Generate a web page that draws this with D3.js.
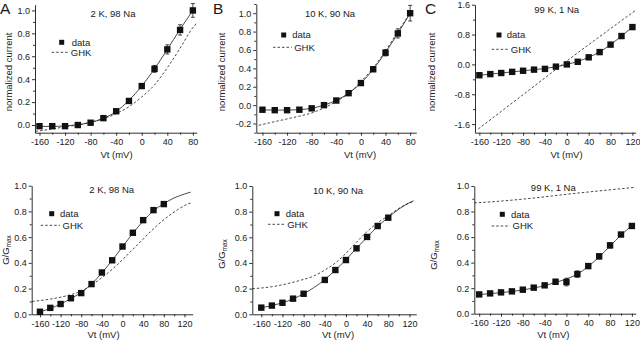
<!DOCTYPE html>
<html><head><meta charset="utf-8">
<script src="https://cdn.jsdelivr.net/npm/d3@7"></script>
<style>
html,body{margin:0;padding:0;background:#fff;}
svg{display:block;font-family:"Liberation Sans",Arial,sans-serif;}
</style></head><body>
<svg id="fig" width="640" height="342"></svg>
<script>
// ---------- data: test potential (mV) ----------
const vStep = [-160,-140,-120,-100,-80,-60,-40,-20,0,20,40,60,80];
const vStepLong = [-160,-140,-120,-100,-80,-60,-40,-20,0,20,40,60,80,100,120];
const vStepB = [-160,-140,-120,-100,-80,-40,-20,0,20,40,60,80];

// ---------- normalized current (I-V) ----------
const ivA = [-0.01,-0.01,-0.01,0.0,0.02,0.06,0.12,0.21,0.34,0.49,0.66,0.83,1.0];
const ivAErr = [0.01,0.01,0.01,0.01,0.01,0.01,0.012,0.015,0.02,0.03,0.04,0.045,0.06];
const ivAFitV = [-160,-140,-120,-100,-80,-60,-40,-20,0,20,40,60,80];
const ivAFit = [-0.012,-0.012,-0.008,0.003,0.022,0.058,0.118,0.215,0.34,0.49,0.66,0.835,1.0];
const ivAGhkV = [-166,-160,-140,-120,-100,-80,-60,-40,-20,0,20,40,60,80,86];
const ivAGhk = [-0.055,-0.05,-0.035,-0.015,0.0,0.025,0.055,0.1,0.16,0.245,0.35,0.5,0.67,0.85,0.89];

const ivB = [-0.05,-0.055,-0.055,-0.05,-0.035,0.0,0.05,0.13,0.24,0.39,0.57,0.78,1.0];
const ivBErr = [0.01,0.01,0.01,0.01,0.01,0.01,0.01,0.015,0.015,0.025,0.035,0.05,0.085];
const ivBFitV = [-160,-140,-120,-100,-80,-60,-40,-20,0,20,40,60,80];
const ivBFit = [-0.052,-0.054,-0.054,-0.05,-0.034,0.0,0.052,0.13,0.24,0.39,0.575,0.78,1.0];
const ivBGhkV = [-166,-160,-140,-120,-100,-80,-60,-40,-20,0,20,40,60,80];
const ivBGhk = [-0.22,-0.21,-0.18,-0.15,-0.12,-0.085,-0.03,0.04,0.125,0.255,0.405,0.59,0.8,1.0];

const ivC = [-0.29,-0.26,-0.23,-0.2,-0.17,-0.14,-0.12,-0.06,0.0,0.07,0.19,0.33,0.53,0.76,1.0];
const ivCErr = [0.02,0.02,0.02,0.02,0.02,0.02,0.02,0.02,0.02,0.02,0.02,0.025,0.03,0.04,0.05];
const ivCFitV = vStepLong;
const ivCFit = [-0.29,-0.26,-0.23,-0.2,-0.17,-0.14,-0.11,-0.065,0.0,0.08,0.19,0.335,0.53,0.76,1.0];
const ivCGhkV = [-162,-120,-80,-40,0,40,80,126];
const ivCGhk = [-1.73,-1.26,-0.81,-0.36,0.09,0.53,0.96,1.45];

// ---------- normalized conductance G/Gmax ----------
const gA = [0.02,0.05,0.08,0.125,0.165,0.235,0.325,0.42,0.527,0.634,0.732,0.81,0.857];
const gAErr = [0.005,0.005,0.005,0.005,0.005,0.005,0.005,0.005,0.008,0.008,0.008,0.008,0.008];
const gAFitV = [-160,-140,-120,-100,-80,-60,-40,-20,0,20,40,60,80,100,120,132];
const gAFit = [0.02,0.045,0.08,0.122,0.17,0.235,0.322,0.42,0.525,0.63,0.725,0.805,0.86,0.905,0.935,0.95];
const gAGhkV = [-175,-160,-140,-120,-100,-80,-60,-40,-20,0,20,40,60,80,100,120,135];
const gAGhk = [0.1,0.107,0.118,0.133,0.153,0.18,0.228,0.285,0.35,0.425,0.505,0.585,0.665,0.735,0.795,0.845,0.87];

const gB = [0.052,0.068,0.09,0.122,0.16,0.268,0.345,0.423,0.514,0.603,0.688,0.753];
const gBErr = [0.005,0.005,0.005,0.005,0.005,0.006,0.006,0.006,0.008,0.008,0.008,0.008];
const gBFitV = [-160,-140,-120,-100,-80,-60,-40,-20,0,20,40,60,80,100,120,128];
const gBFit = [0.05,0.068,0.09,0.12,0.16,0.21,0.27,0.345,0.425,0.515,0.6,0.685,0.755,0.82,0.87,0.885];
const gBGhkV = [-177,-160,-140,-120,-100,-80,-60,-40,-20,0,20,40,60,80,100,120,128];
const gBGhk = [0.2,0.205,0.215,0.23,0.25,0.272,0.3,0.345,0.4,0.475,0.562,0.645,0.713,0.768,0.825,0.868,0.88];

const gC = [0.151,0.159,0.167,0.175,0.188,0.204,0.222,0.25,0.248,0.31,0.373,0.449,0.535,0.62,0.687];
const gCErr = [0.008,0.008,0.008,0.008,0.008,0.01,0.015,0.02,0.03,0.025,0.02,0.02,0.02,0.015,0.015];
const gCFitV = vStepLong;
const gCFit = [0.15,0.157,0.165,0.174,0.186,0.201,0.22,0.245,0.272,0.31,0.37,0.445,0.53,0.615,0.69];
const gCGhkV = [-169,-160,-120,-80,-40,0,40,80,127];
const gCGhk = [0.868,0.87,0.882,0.897,0.915,0.935,0.953,0.97,0.99];

// ---------- tick values and labels ----------
const xTicksTop = [-160,-120,-80,-40,0,40,80];
const xTicksWide = [-160,-120,-80,-40,0,40,80,120];
const yTicksIV = [0,0.2,0.4,0.6,0.8,1.0];
const yTicksIVB = [-0.2,0,0.2,0.4,0.6,0.8,1.0];
const yTicksIVC = [-1.6,-0.8,0,0.8,1.6];
const yTicksG = [0,0.2,0.4,0.6,0.8,1.0];
const titles = ["2 K, 98 Na","10 K, 90 Na","99 K, 1 Na"];
const panelLetters = ["A","B","C"];

// ---------- layout of the six panels ----------
const panels = [
  {letter:"A", lx:0, title:titles[0], tc:[113,17.3],
   xr:[35,196.7], yr:[132.7,4.7], xd:[-167,86], yd:[-0.067,1.05],
   xt:xTicksTop, xm:20, yt:yTicksIV, ym:0.1, yf:".1f",
   ylab:"iv", ylc:[9,72], xlc:[116.5,158.3],
   leg:{sq:[61.7,42.3], tx:71.7, dl:[51.7,68.3], dy:52.3},
   v:vStep, y:ivA, e:ivAErr, fv:ivAFitV, f:ivAFit, gv:ivAGhkV, g:ivAGhk},
  {letter:"B", lx:213, title:titles[1], tc:[330,17.3],
   xr:[256.3,416.3], yr:[132.7,4], xd:[-170,90], yd:[-0.3,1.1],
   xt:xTicksTop, xm:20, yt:yTicksIVB, ym:0.1, yf:".1f",
   ylab:"iv", ylc:[222,72], xlc:[360,158.3],
   leg:{sq:[283.7,35], tx:292.3, dl:[273,291.7], dy:47.3},
   v:vStep, y:ivB, e:ivBErr, fv:ivBFitV, f:ivBFit, gv:ivBGhkV, g:ivBGhk},
  {letter:"C", lx:425, title:titles[2], tc:[556.7,12.6],
   xr:[475,635.7], yr:[132.7,4.7], xd:[-168,126], yd:[-1.83,1.6],
   xt:xTicksWide, xm:20, yt:yTicksIVC, ym:0.4, yf:".1f",
   ylab:"iv", ylc:[432,72], xlc:[566.5,158.3],
   leg:{sq:[499,35], tx:506.7, dl:[491.7,508.3], dy:49.3},
   v:vStepLong, y:ivC, e:ivCErr, fv:ivCFitV, f:ivCFit, gv:ivCGhkV, g:ivCGhk},
  {letter:null, title:titles[0], tc:[111.7,192.6],
   xr:[31.7,192.7], yr:[314.3,185.7], xd:[-176,136], yd:[0,1],
   xt:xTicksWide, xm:20, yt:yTicksG, ym:0.1, yf:".1f",
   ylab:"g", ylc:[6,250], xlc:[103.5,337.6],
   leg:{sq:[51.7,213.7], tx:60, dl:[40.7,60], dy:225.3},
   v:vStep, y:gA, e:gAErr, fv:gAFitV, f:gAFit, gv:gAGhkV, g:gAGhk},
  {letter:null, title:titles[1], tc:[338,193.6],
   xr:[252.3,416.3], yr:[314.3,186], xd:[-177,133], yd:[0,1],
   xt:xTicksWide, xm:20, yt:yTicksG, ym:0.1, yf:".1f",
   ylab:"g", ylc:[222,254], xlc:[338,337.6],
   leg:{sq:[277,213.7], tx:285.7, dl:[268,284.7], dy:224.3},
   v:vStepB, y:gB, e:gBErr, fv:gBFitV, f:gBFit, gv:gBGhkV, g:gBGhk},
  {letter:null, title:titles[2], tc:[553.3,191],
   xr:[474.3,635.7], yr:[313.7,186], xd:[-169,127], yd:[0,1],
   xt:xTicksWide, xm:20, yt:yTicksG, ym:0.1, yf:".1f",
   ylab:"g", ylc:[434,255], xlc:[553.3,337.6],
   leg:{sq:[502.3,214.3], tx:511, dl:[491.7,510], dy:226},
   v:vStepLong, y:gC, e:gCErr, fv:gCFitV, f:gCFit, gv:gCGhkV, g:gCGhk}
];

const INK = "#1a1a1a";
const svg = d3.select("#fig");

function range(a, b, step) {
  const out = [];
  for (let k = Math.ceil(a / step - 1e-9); k * step <= b + 1e-9; k++) out.push(+(k * step).toFixed(6));
  return out;
}

function drawPanel(p) {
  const g = svg.append("g");
  const x = d3.scaleLinear().domain(p.xd).range(p.xr);
  const y = d3.scaleLinear().domain(p.yd).range(p.yr);

  // minor ticks
  const xMinor = range(p.xd[0], p.xd[1], p.xm).filter(v => !p.xt.includes(v));
  const yMinor = range(p.yd[0], p.yd[1], p.ym).filter(v => !p.yt.some(t => Math.abs(t - v) < 1e-6));
  g.append("g").attr("transform", `translate(0,${p.yr[0]})`)
    .call(d3.axisBottom(x).tickValues(xMinor).tickSize(2).tickSizeOuter(0).tickFormat(""))
    .call(a => a.select(".domain").remove());
  g.append("g").attr("transform", `translate(${p.xr[0]},0)`)
    .call(d3.axisLeft(y).tickValues(yMinor).tickSize(2).tickSizeOuter(0).tickFormat(""))
    .call(a => a.select(".domain").remove());

  // major axes
  g.append("g").attr("transform", `translate(0,${p.yr[0]})`)
    .call(d3.axisBottom(x).tickValues(p.xt).tickSize(3).tickPadding(3).tickSizeOuter(0).tickFormat(d => String(d)));
  g.append("g").attr("transform", `translate(${p.xr[0]},0)`)
    .call(d3.axisLeft(y).tickValues(p.yt).tickSize(3).tickPadding(2).tickSizeOuter(0)
      .tickFormat(d => d3.format(p.yf)(d).replace("−", "-")));
  g.selectAll(".tick line, .domain").attr("stroke", INK).attr("stroke-width", 0.9);
  g.selectAll(".tick text").attr("fill", INK).attr("font-size", 9)
    .attr("font-family", '"Liberation Sans",Arial,sans-serif');

  // GHK prediction (dashed)
  const line = (vs, ys) => d3.line().curve(d3.curveMonotoneX)
    .x((d, i) => x(vs[i])).y((d, i) => y(ys[i]))(ys);
  g.append("path").attr("d", line(p.gv, p.g))
    .attr("fill", "none").attr("stroke", INK).attr("stroke-width", 0.8)
    .attr("stroke-dasharray", "2.5,2");

  // fitted curve (solid)
  g.append("path").attr("d", line(p.fv, p.f))
    .attr("fill", "none").attr("stroke", INK).attr("stroke-width", 0.8);

  // error bars
  const eb = g.append("g").attr("stroke", INK).attr("stroke-width", 0.8);
  p.v.forEach((v, i) => {
    const cx = x(v), top = y(p.y[i] + p.e[i]), bot = y(p.y[i] - p.e[i]);
    eb.append("line").attr("x1", cx).attr("x2", cx).attr("y1", top).attr("y2", bot);
    eb.append("line").attr("x1", cx - 2).attr("x2", cx + 2).attr("y1", top).attr("y2", top);
    eb.append("line").attr("x1", cx - 2).attr("x2", cx + 2).attr("y1", bot).attr("y2", bot);
  });

  // data markers
  const s = 6.4;
  g.append("g").selectAll("rect").data(p.y).join("rect")
    .attr("x", (d, i) => x(p.v[i]) - s / 2).attr("y", d => y(d) - s / 2)
    .attr("width", s).attr("height", s).attr("fill", "#111");

  // title
  g.append("text").attr("x", p.tc[0]).attr("y", p.tc[1]).attr("text-anchor", "middle")
    .attr("font-size", 9.5).attr("fill", INK).text(p.title);

  // axis labels
  g.append("text").attr("x", p.xlc[0]).attr("y", p.xlc[1]).attr("text-anchor", "middle")
    .attr("font-size", 9.5).attr("fill", INK).text("Vt (mV)");
  const yl = g.append("text").attr("text-anchor", "middle").attr("font-size", 9.5).attr("fill", INK)
    .attr("transform", `translate(${p.ylc[0] + 3.3},${p.ylc[1]}) rotate(-90)`);
  if (p.ylab === "iv") {
    yl.text("normalized current");
  } else {
    yl.append("tspan").text("G/G");
    yl.append("tspan").attr("font-size", 6.5).attr("dy", 2).text("max");
  }

  // legend
  const L = p.leg, ls = 5;
  g.append("rect").attr("x", L.sq[0] - ls / 2).attr("y", L.sq[1] - ls / 2)
    .attr("width", ls).attr("height", ls).attr("fill", "#111");
  g.append("text").attr("x", L.tx).attr("y", L.sq[1] + 3.3).attr("font-size", 9.5)
    .attr("fill", INK).text("data");
  g.append("line").attr("x1", L.dl[0]).attr("x2", L.dl[1]).attr("y1", L.dy).attr("y2", L.dy)
    .attr("stroke", INK).attr("stroke-width", 0.8).attr("stroke-dasharray", "2.5,2");
  g.append("text").attr("x", L.dl[1] + 2.5).attr("y", L.dy + 3.3).attr("font-size", 9.5)
    .attr("fill", INK).text("GHK");

  // panel letter
  if (p.letter) {
    g.append("text").attr("x", p.lx).attr("y", 14).attr("font-size", 15.5)
      .attr("fill", INK).text(p.letter);
  }
}

panels.forEach(drawPanel);
</script>
</body></html>
